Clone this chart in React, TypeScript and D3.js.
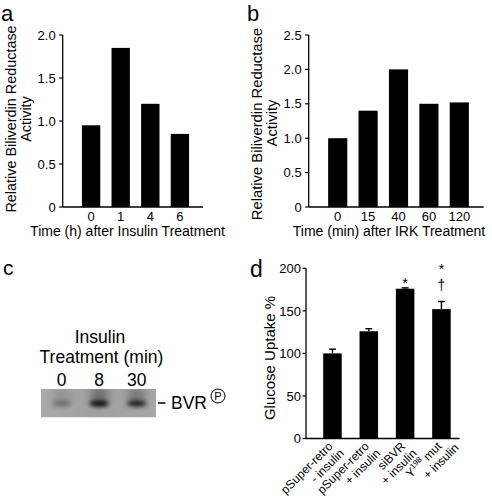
import React from "react";
import * as d3 from "d3";

const FONT = "'Liberation Sans', Arial, Helvetica, sans-serif";

// Panel a
const aCategories = ["0", "1", "4", "6"];
const aValues = [0.95, 1.85, 1.2, 0.85];
const aTicks = [0, 0.5, 1.0, 1.5, 2.0];
const aTickLabels = ["0", "0.5", "1.0", "1.5", "2.0"];
// Panel b
const bCategories = ["0", "15", "40", "60", "120"];
const bValues = [1.0, 1.4, 2.0, 1.5, 1.52];
const bTicks = [0, 0.5, 1.0, 1.5, 2.0, 2.5];
const bTickLabels = ["0", "0.5", "1.0", "1.5", "2.0", "2.5"];
// Panel c
const cLanes = ["0", "8", "30"];
const cBandIntensity = [0.3, 0.95, 0.8];
// Panel d
const dLine1 = ["pSuper-retro", "pSuper-retro", "siBVR", "Y^198^ mut"];
const dLine2 = ["- insulin", "+ insulin", "+ insulin", "+ insulin"];
const dValues = [100, 126, 176, 152];
const dErrors = [5, 3, 1, 9];
const dMarks = [[], [], ["*"], ["*", "†"]];
const dTicks = [0, 50, 100, 150, 200];

type BarProps = {
  categories: string[];
  values: number[];
  ticks: number[];
  tickLabels: string[];
  axisX: number;
  xRange: [number, number];
  paddingInner: number;
  paddingOuter: number;
  yRange: [number, number];
  yMax: number;
};

function BarPanel(p: BarProps) {
  const x = d3
    .scaleBand<string>()
    .domain(p.categories)
    .range(p.xRange)
    .paddingInner(p.paddingInner)
    .paddingOuter(p.paddingOuter);
  const y = d3.scaleLinear().domain([0, p.yMax]).range(p.yRange);
  return (
    <g>
      {p.categories.map((c, i) => (
        <rect
          key={c}
          x={x(c)}
          width={x.bandwidth()}
          y={y(p.values[i])}
          height={y(0) - y(p.values[i])}
          fill="#000"
        />
      ))}
      <line x1={p.axisX} x2={p.axisX} y1={y(0)} y2={y(p.yMax)} stroke="#000" strokeWidth={1.3} />
      <line x1={p.axisX} x2={p.xRange[1]} y1={y(0)} y2={y(0)} stroke="#000" strokeWidth={1.3} />
      {p.ticks.map((t, i) => (
        <g key={t}>
          <line x1={p.axisX - 3.5} x2={p.axisX} y1={y(t)} y2={y(t)} stroke="#000" strokeWidth={1.2} />
          <text x={p.axisX - 7} y={y(t)} dy="0.36em" textAnchor="end" fontSize={13}>
            {p.tickLabels[i]}
          </text>
        </g>
      ))}
      {p.categories.map((c) => (
        <text key={c} x={(x(c) as number) + x.bandwidth() / 2} y={221} textAnchor="middle" fontSize={13}>
          {c}
        </text>
      ))}
    </g>
  );
}

function renderSup(s: string) {
  const parts = s.split("^");
  return parts.map((part, i) =>
    i % 2 === 1 ? (
      <tspan key={i} fontSize={8} dy={-5}>
        {part}
      </tspan>
    ) : (
      <tspan key={i} dy={i > 0 ? 5 : 0}>
        {part}
      </tspan>
    )
  );
}

function PanelC() {
  const lane = d3.scalePoint<string>().domain(cLanes).range([61.7, 136.7]);
  return (
    <g>
      <text x={3} y={275} fontSize={21}>c</text>
      <text x={100} y={343} textAnchor="middle" fontSize={17.5}>Insulin</text>
      <text x={101.5} y={363} textAnchor="middle" fontSize={17.5}>Treatment (min)</text>
      {cLanes.map((l) => (
        <text key={l} x={lane(l)} y={386} textAnchor="middle" fontSize={17.5}>
          {l}
        </text>
      ))}
      <defs>
        <filter id="blur" x="-50%" y="-50%" width="200%" height="200%">
          <feGaussianBlur stdDeviation={2.2} />
        </filter>
        <filter id="blur2" x="-50%" y="-50%" width="200%" height="200%">
          <feGaussianBlur stdDeviation={4} />
        </filter>
        <clipPath id="blotclip">
          <rect x={41} y={389} width={115} height={28.5} />
        </clipPath>
        <linearGradient id="blotbg" x1="0" x2="1" y1="0" y2="0">
          <stop offset="0" stopColor="#a9a9a9" />
          <stop offset="0.5" stopColor="#a0a0a0" />
          <stop offset="1" stopColor="#a6a6a6" />
        </linearGradient>
      </defs>
      <g clipPath="url(#blotclip)">
        <rect x={41} y={389} width={115} height={28.5} fill="url(#blotbg)" />
        {cLanes.map((l, i) => (
          <g key={l}>
            <ellipse
              cx={lane(l)}
              cy={396}
              rx={9}
              ry={9}
              fill="#000"
              opacity={cBandIntensity[i] * 0.35}
              filter="url(#blur2)"
            />
            <ellipse
              cx={lane(l)}
              cy={403.5}
              rx={10}
              ry={3}
              fill="#000"
              opacity={cBandIntensity[i]}
              filter="url(#blur)"
            />
          </g>
        ))}
      </g>
      <line x1={158} x2={165.5} y1={403} y2={403} stroke="#000" strokeWidth={1.5} />
      <text x={171} y={408.5} fontSize={17.5}>BVR</text>
      <circle cx={218} cy={396} r={7} fill="none" stroke="#000" strokeWidth={1} />
      <text x={218} y={396} dy="0.36em" textAnchor="middle" fontSize={11}>P</text>
    </g>
  );
}

function PanelD() {
  const cats = dLine1.map((_, i) => String(i));
  const x = d3.scaleBand<string>().domain(cats).range([314.3, 459.6]).paddingInner(0.49).paddingOuter(0.245);
  const y = d3.scaleLinear().domain([0, 200]).range([438.5, 268.3]);
  const axisX = 306;
  return (
    <g>
      <text x={250} y={276.5} fontSize={23}>d</text>
      <text transform={`translate(274.5,358) rotate(-90)`} textAnchor="middle" fontSize={15}>
        Glucose Uptake %
      </text>
      {cats.map((c, i) => {
        const cx = (x(c) as number) + x.bandwidth() / 2;
        const top = y(dValues[i]);
        const etop = y(dValues[i] + dErrors[i]);
        const n = dMarks[i].length;
        return (
          <g key={c}>
            <rect x={x(c)} width={x.bandwidth()} y={top} height={y(0) - top} fill="#000" />
            <line x1={cx} x2={cx} y1={top} y2={etop} stroke="#000" strokeWidth={1.4} />
            <line x1={cx - 3.5} x2={cx + 3.5} y1={etop} y2={etop} stroke="#000" strokeWidth={1.4} />
            {dMarks[i].map((m, k) => {
              const base = n === 1 ? etop + 0.5 : k === n - 1 ? etop - 11.5 : etop - 27;
              return (
                <text key={k} x={cx} y={base} textAnchor="middle" fontSize={m === "*" ? 14 : 14}>
                  {m}
                </text>
              );
            })}
            <g transform={`translate(${cx + 1},${447}) rotate(-45)`}>
              <text textAnchor="end" fontSize={12}>
                {renderSup(dLine1[i])}
              </text>
              <text x={i === 3 ? 11 : 3} y={13} textAnchor="end" fontSize={12}>
                {dLine2[i]}
              </text>
            </g>
          </g>
        );
      })}
      <line x1={axisX} x2={axisX} y1={y(0)} y2={y(200)} stroke="#000" strokeWidth={1.3} />
      <line x1={axisX} x2={459.6} y1={y(0)} y2={y(0)} stroke="#000" strokeWidth={1.3} />
      {dTicks.map((t) => (
        <g key={t}>
          <line x1={axisX - 3.5} x2={axisX} y1={y(t)} y2={y(t)} stroke="#000" strokeWidth={1.2} />
          <text x={axisX - 5} y={y(t)} dy="0.36em" textAnchor="end" fontSize={13}>
            {t}
          </text>
        </g>
      ))}
    </g>
  );
}

export default function App() {
  return (
    <svg
      width={492}
      height={496}
      style={{ position: "absolute", left: 0, top: 0, background: "#fff" }}
      fontFamily={FONT}
    >
      <rect width={492} height={496} fill="#fff" />
      {/* Panel a */}
      <text x={1} y={21} fontSize={22}>a</text>
      <text transform="translate(15.5,119) rotate(-90)" textAnchor="middle" fontSize={14.4}>
        Relative Biliverdin Reductase
      </text>
      <text transform="translate(30.5,119) rotate(-90)" textAnchor="middle" fontSize={14.4}>
        Activity
      </text>
      <BarPanel
        categories={aCategories}
        values={aValues}
        ticks={aTicks}
        tickLabels={aTickLabels}
        axisX={62.7}
        xRange={[68, 203]}
        paddingInner={0.38}
        paddingOuter={0.47}
        yRange={[207, 35]}
        yMax={2.0}
      />
      <text x={127.5} y={235.5} textAnchor="middle" fontSize={14}>
        Time (h) after Insulin Treatment
      </text>
      {/* Panel b */}
      <text x={247} y={21} fontSize={22}>b</text>
      <text transform="translate(262,124) rotate(-90)" textAnchor="middle" fontSize={14.8}>
        Relative Biliverdin Reductase
      </text>
      <text transform="translate(277,123) rotate(-90)" textAnchor="middle" fontSize={14.8}>
        Activity
      </text>
      <BarPanel
        categories={bCategories}
        values={bValues}
        ticks={bTicks}
        tickLabels={bTickLabels}
        axisX={308.7}
        xRange={[313.4, 483.6]}
        paddingInner={0.37}
        paddingOuter={0.485}
        yRange={[207, 35]}
        yMax={2.5}
      />
      <text x={389} y={235.5} textAnchor="middle" fontSize={14}>
        Time (min) after IRK Treatment
      </text>
      <PanelC />
      <PanelD />
    </svg>
  );
}
